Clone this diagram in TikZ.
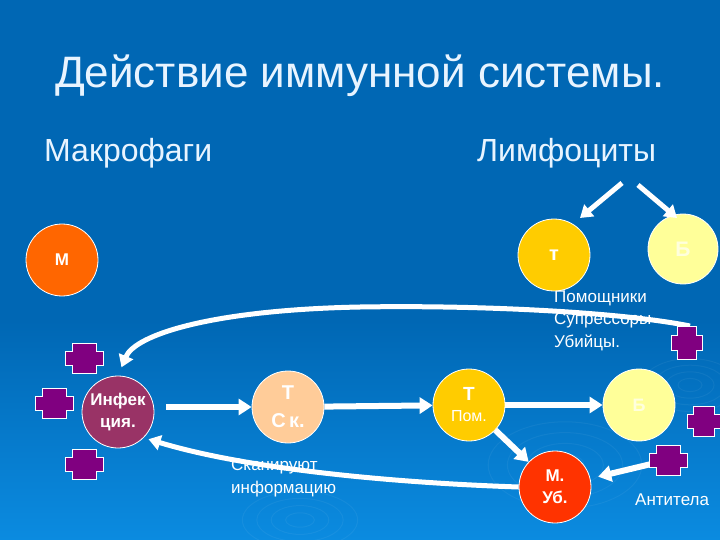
\documentclass[tikz,border=0pt]{standalone}
\usepackage{fontspec}
\setmainfont{Liberation Sans}
\usetikzlibrary{arrows.meta}

\definecolor{slidetop}{HTML}{0067B4}
\definecolor{slidebottom}{HTML}{0B8BE0}
\definecolor{titlecol}{HTML}{E8F4FF}
\definecolor{macro}{HTML}{FF6600}
\definecolor{tgold}{HTML}{FFCC00}
\definecolor{bpale}{HTML}{FFFF99}
\definecolor{bpaletext}{HTML}{FFFFDD}
\definecolor{infect}{HTML}{993366}
\definecolor{peach}{HTML}{FFCC99}
\definecolor{killer}{HTML}{FF3300}
\definecolor{antigen}{HTML}{800080}

\begin{document}
\begin{tikzpicture}[x=1pt,y=-1pt]

		\tikzset{cell/.style={shape=circle,draw=white,line width=0.8pt,minimum size=72pt,inner sep=0pt,text=white,align=center}}
		\tikzset{arrow/.style={draw=white,line width=6pt,-{Triangle[length=13pt,width=16pt]}}}
		\tikzset{thinarrow/.style={arrow,line width=5pt,-{Triangle[length=12pt,width=15pt]}}}
		\tikzset{bigarrow/.style={arrow,line width=5pt,-{Triangle[length=12pt,width=15pt]}}}
		\tikzset{caption/.style={text=white,anchor=base west,inner sep=0pt,font=\fontsize{17}{22.5}\selectfont,align=left}}
		\tikzset{heading/.style={text=titlecol,anchor=base west,inner sep=0pt,font=\fontsize{32}{36}\selectfont}}
		\tikzset{pics/antigen/.style={code={
			\draw[fill=antigen,draw=white,line width=0.8pt] (-12,-15) -- (12,-15) -- (12,-7) -- (19,-7) -- (19,7) -- (12,7)
				-- (12,15) -- (-12,15) -- (-12,7) -- (-19,7) -- (-19,-7) -- (-12,-7) -- cycle;}}}

		\fill[slidetop] (0,0) rectangle (720,321);
		\fill[top color=slidetop,bottom color=slidebottom] (0,320) rectangle (720,540);
		\useasboundingbox (0,0) rectangle (720,540);

		% ripples
		\begin{scope}[draw=white,opacity=0.05,line width=1pt]
			\foreach \r in {12,24,36,48} {
				\draw (690,385) ellipse ({\r} and {\r*0.55});
				\draw (565,465) ellipse ({\r*1.6} and {\r*0.9});
				\draw (300,520) ellipse ({\r*1.2} and {\r*0.6});
			}
		\end{scope}

		\node[text=titlecol,anchor=base,inner sep=0pt,font=\fontsize{44}{50}\selectfont] (title) at (360,88) {Действие иммунной системы.};
		\node[heading] (mac) at (44,162) {Макрофаги};
		\node[heading] (lym) at (477,162) {Лимфоциты};

		% multi-line captions sit on the baseline of their last line
		\node[caption] (roles) at (554,347) {Помощники\\Супрессоры\\Убийцы.};
		\node[caption] (scan) at (231,493) {Сканируют\\информацию};
		\node[caption] (anti) at (635,505) {Антитела};

		\coordinate (l1) at (84,358);
		\coordinate (l2) at (54,403);
		\coordinate (l3) at (84,464);
		\coordinate (r1) at (687,343);
		\coordinate (r2) at (704,421);
		\coordinate (r3) at (668,460);

		\node[cell,fill=macro,font=\bfseries\fontsize{17}{20}\selectfont] (m) at (62,260) {М};
		\node[cell,fill=tgold,font=\bfseries\fontsize{20}{22}\selectfont] (t) at (554,255) {т};
		\node[cell,fill=bpale,text=bpaletext,minimum size=70pt,font=\bfseries\fontsize{21}{22}\selectfont] (b) at (683,249) {Б};

		\node[cell,fill=infect,font=\bfseries\fontsize{17}{22}\selectfont] (inf) at (118,412) {Инфек\\ция.};
		\node[cell,fill=peach,font=\bfseries\fontsize{20}{28}\selectfont] (tsk) at (288,407) {Т\\С\,к.};
		\node[cell,fill=tgold,font=\fontsize{16}{21}\selectfont] (tpom) at (469,405) {\textbf{\fontsize{19}{21}\selectfont Т}\\Пом.};
		\node[cell,fill=bpale,text=bpaletext,font=\bfseries\fontsize{18}{22}\selectfont] (b2) at (639,405) {Б};
		\node[cell,fill=killer,font=\bfseries\fontsize{17}{22}\selectfont] (mub) at (555,487) {М.\\Уб.};

		% feedback loops
		\path[bigarrow,shorten >=9pt] ([shift={(3,-17)}]r1) .. controls (620,312) and (480,305) .. (360,307)
			.. controls (210,310) and (135,335) .. (inf.north);
		\path[bigarrow,shorten >=5pt] (mub.west) .. controls (400,483) and (250,470) .. (inf.-45);

		\coordinate (ls1) at (622,183);
		\coordinate (ls2) at (638,185);
		\coordinate (lt1) at (580,218);
		\coordinate (lt2) at (677,218);
		\path[thinarrow] (ls1) -- (lt1);
		\path[thinarrow] (ls2) -- (lt2);

		\path[arrow,shorten <=12pt] (inf.east |- tsk) -- (tsk);
		\path[arrow] (tsk) -- (tpom);
		\path[arrow] (tpom) -- (b2);
		\path[arrow] (tpom) -- (mub);
		\path[arrow,shorten <=13pt,shorten >=8pt] (r3) -- (mub);

		\pic at (l1) {antigen};
		\pic at (l2) {antigen};
		\pic at (l3) {antigen};
		\pic[xscale=0.8,yscale=1.1] at (r1) {antigen};
		\pic[xscale=0.85] at (r2) {antigen};
		\pic at (r3) {antigen};

\end{tikzpicture}
\end{document}
